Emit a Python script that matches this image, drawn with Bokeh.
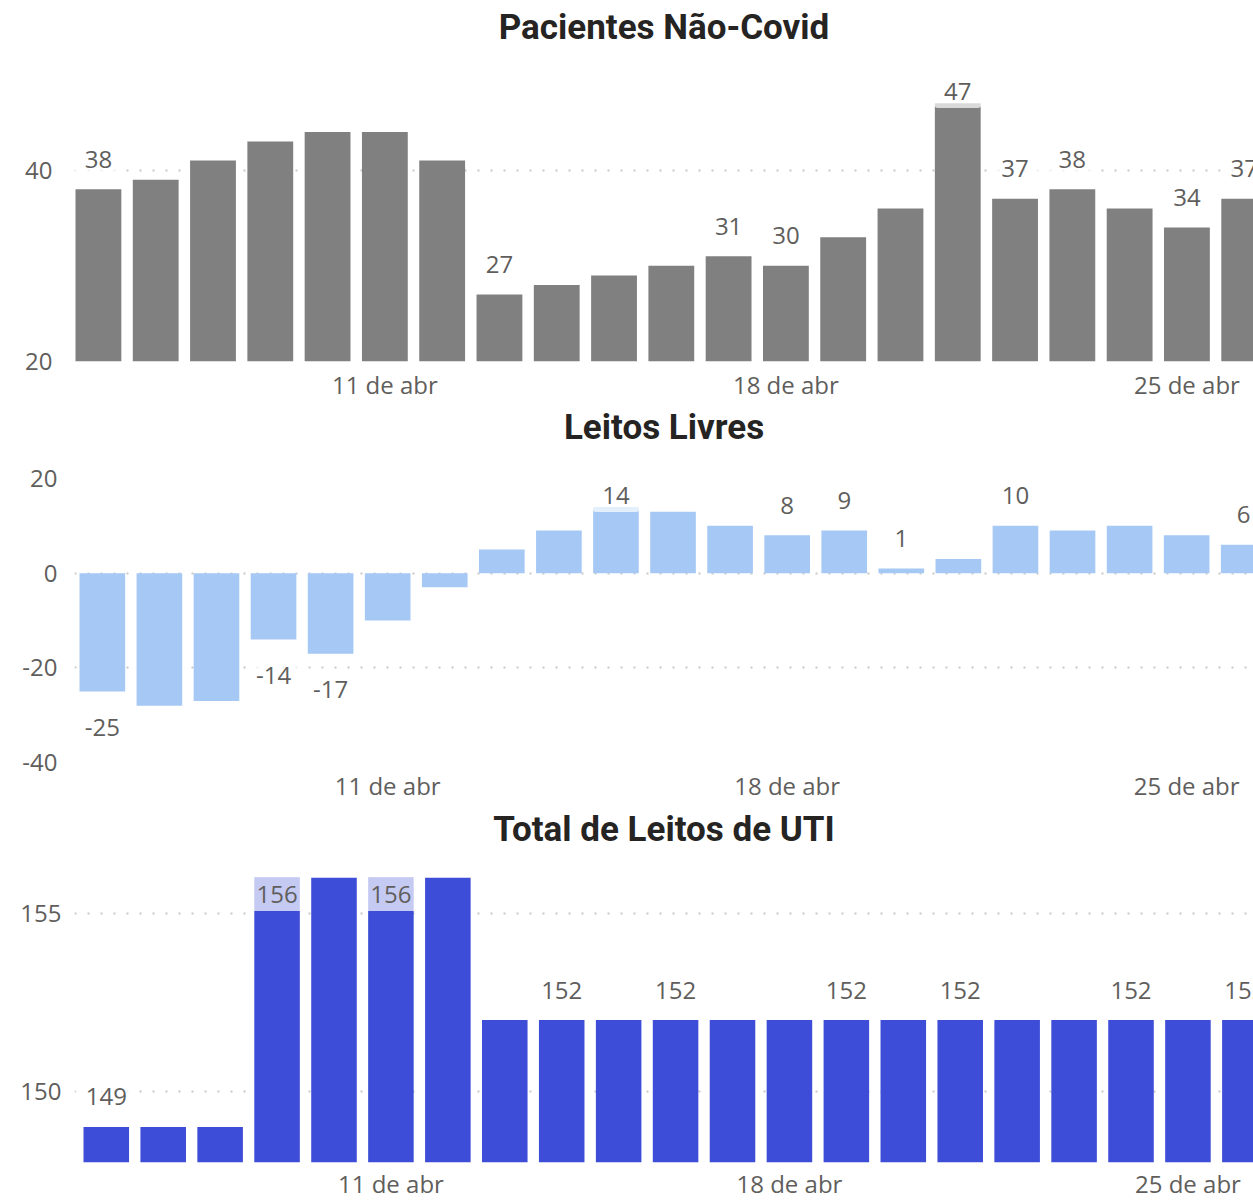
from bokeh.plotting import figure
from bokeh.models import Range1d, FixedTicker, Label, Title
from bokeh.layouts import column
from bokeh.embed import file_html
from bokeh.resources import INLINE

# ---------------- data ----------------
days = [6, 7, 8, 9, 10, 11, 12, 13, 14, 15, 16, 17, 18, 19, 20, 21, 22, 23, 24, 25, 26]
tick_days = [11, 18, 25]
tick_labels = ["11 de abr", "18 de abr", "25 de abr"]

nao_covid = [38, 39, 41, 43, 44, 44, 41, 27, 28, 29, 30, 31, 30, 33, 36, 47, 37, 38, 36, 34, 37]
nao_covid_labeled = [6, 13, 17, 18, 21, 22, 23, 25, 26]
nao_covid_ticks = [20, 40]

leitos_livres = [-25, -28, -27, -14, -17, -10, -3, 5, 9, 14, 13, 10, 8, 9, 1, 3, 10, 9, 10, 8, 6]
leitos_livres_labeled = [6, 9, 10, 15, 18, 19, 20, 22, 26]
leitos_livres_ticks = [-40, -20, 0, 20]

total_uti = [149, 149, 149, 156, 156, 156, 156, 152, 152, 152, 152, 152, 152, 152, 152, 152, 152, 152, 152, 152, 152]
total_uti_labeled = [6, 9, 11, 14, 16, 19, 21, 24, 26]
total_uti_ticks = [150, 155]

TEXT_GRAY = "#605E5C"
FIG_W = 1253
LEFT = 74


def panel(title, vals, labeled, ticks, base, y0, y1, color, bar1_left, pitch,
          h, top, bottom, title_gap, ylab_standoff, xlab_standoff):
    frame_w = FIG_W - LEFT
    frame_h = h - top - bottom
    ppu = frame_h / (y1 - y0)
    x0 = days[0] - 0.4 - (bar1_left - LEFT) / pitch
    x1 = x0 + frame_w / pitch
    p = figure(width=FIG_W, height=h, output_backend="svg", toolbar_location=None,
               x_range=Range1d(x0, x1), y_range=Range1d(y0, y1),
               min_border_left=LEFT, min_border_right=0,
               min_border_top=top, min_border_bottom=bottom)
    p.outline_line_color = None
    p.background_fill_color = "white"
    p.border_fill_color = "white"

    # title (outermost) with an empty spacer title between it and the frame
    p.title.text = title
    p.title.align = "center"
    p.title.text_font = "Roboto"
    p.title.text_font_style = "bold"
    p.title.text_font_size = "35px"
    p.title.text_color = "#252423"
    p.title.standoff = 0
    p.add_layout(Title(text=" ", text_font_size="1px", standoff=title_gap - 20), "above")

    p.vbar(x=days, top=vals, bottom=base, width=0.8, fill_color=color, line_color=None)

    p.xgrid.visible = False
    p.ygrid.ticker = FixedTicker(ticks=ticks)
    p.ygrid.grid_line_color = "#C8C8C8"
    p.ygrid.grid_line_width = 2
    p.ygrid.grid_line_dash = "2 11"

    p.yaxis.ticker = FixedTicker(ticks=ticks)
    p.yaxis.major_label_overrides = {t: str(t) for t in ticks}
    p.xaxis.ticker = FixedTicker(ticks=tick_days)
    p.xaxis.major_label_overrides = {d: t for d, t in zip(tick_days, tick_labels)}
    for ax in (p.xaxis, p.yaxis):
        ax.axis_line_color = None
        ax.major_tick_line_color = None
        ax.minor_tick_line_color = None
        ax.major_tick_out = 0
        ax.major_tick_in = 0
        ax.major_label_text_font = "Open Sans"
        ax.major_label_text_font_size = "24px"
        ax.major_label_text_color = TEXT_GRAY
    p.yaxis.major_label_standoff = ylab_standoff
    p.xaxis.major_label_standoff = xlab_standoff

    for d, v in zip(days, vals):
        if d not in labeled:
            continue
        if v >= 0:
            off = min(30, (y1 - v) * ppu - 17)
        else:
            off = -36
        p.add_layout(Label(x=d, y=v, y_offset=off, text=str(v),
                           text_align="center", text_baseline="middle",
                           text_font="Open Sans", text_font_size="24px",
                           text_color=TEXT_GRAY,
                           background_fill_color="white", background_fill_alpha=0.7,
                           padding=(10, 8), border_radius=4))
    return p


p1 = panel("Pacientes Não-Covid", nao_covid, nao_covid_labeled, nao_covid_ticks,
           20, 20, 50, "#808080", 75, 57.29, 403, 74, 42, 44, 22, 6)
p2 = panel("Leitos Livres", leitos_livres, leitos_livres_labeled, leitos_livres_ticks,
           0, -40, 20, "#A6C8F5", 79, 57.07, 401, 75, 42, 48, 17, 6)
p3 = panel("Total de Leitos de UTI", total_uti, total_uti_labeled, total_uti_ticks,
           148, 148, 156, "#3D4DD8", 83, 56.93, 398, 73, 40, 45, 13, 4)

layout = column(p1, p2, p3, spacing=0)
open("out.html", "w").write(file_html(layout, INLINE))
